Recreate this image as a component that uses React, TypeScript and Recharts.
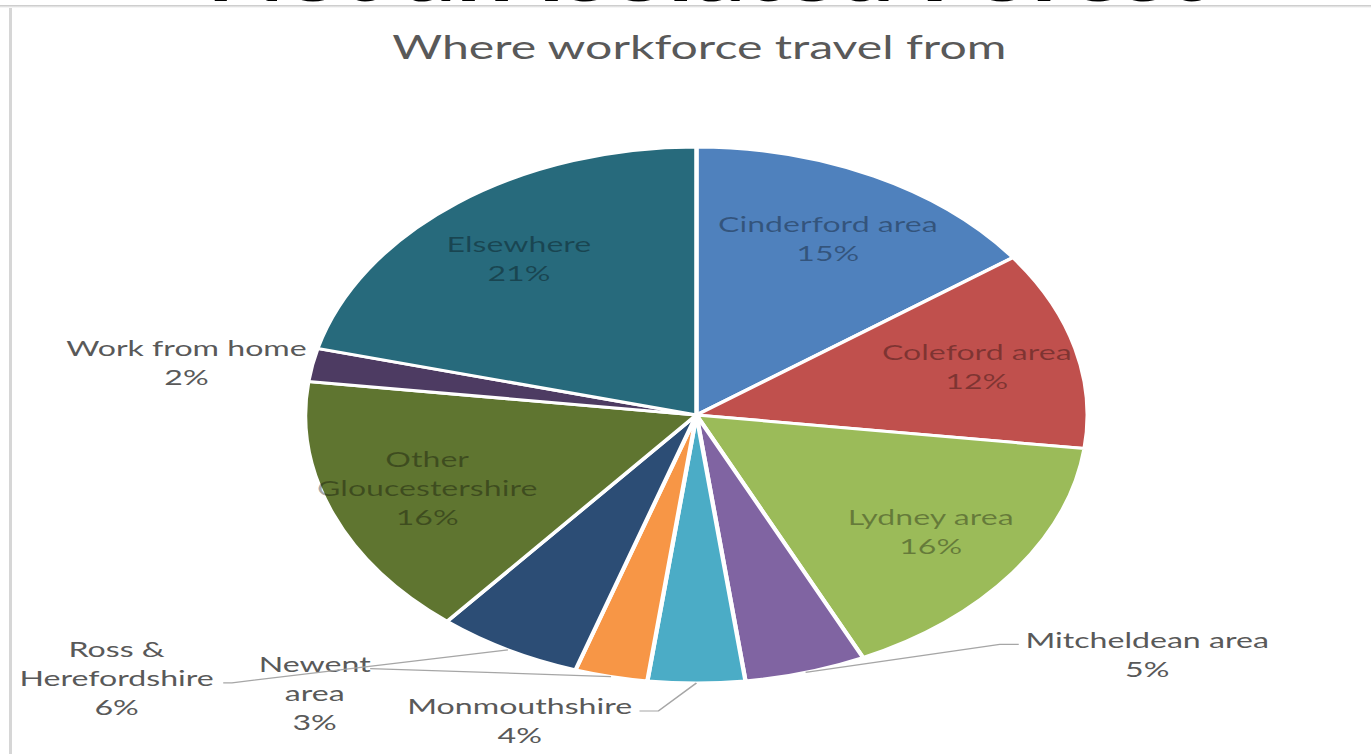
import { PieChart, Pie, Cell } from 'recharts';

const areas = [
  'Cinderford area',
  'Coleford area',
  'Lydney area',
  'Mitcheldean area',
  'Monmouthshire',
  'Newent area',
  'Ross & Herefordshire',
  'Other Gloucestershire',
  'Work from home',
  'Elsewhere',
];
const shares = [15, 12, 16, 5, 4, 3, 6, 16, 2, 21];
const labelRows = [
  ['Cinderford area'],
  ['Coleford area'],
  ['Lydney area'],
  ['Mitcheldean area'],
  ['Monmouthshire'],
  ['Newent', 'area'],
  ['Ross &', 'Herefordshire'],
  ['Other', 'Gloucestershire'],
  ['Work from home'],
  ['Elsewhere'],
];
const colors = ['#4F81BD', '#C0504D', '#9BBB59', '#8064A2', '#4BACC6', '#F79646', '#2C4D75', '#5F7530', '#4D3B62', '#276A7C'];

const data = areas.map((name, i) => ({ name, value: shares[i] }));

// the source picture is stretched sideways, so the whole chart is scaled on x
const SX = 1.46;
const W = 1371 / SX;
const LINE = 29;
const FONT = 22;

// outside labels: offsets from the slice's outer edge point (unscaled px)
const outsideLabels: Record<string, { text: [number, number]; line?: [number, number][] }> = {
  'Mitcheldean area': { text: [234, -33], line: [[133, -28], [146, -28]] },
  Monmouthshire: { text: [-121, 23], line: [[-26, 28], [-39, 28]] },
  'Newent area': { text: [-203, -13], line: [[-165, -8]] },
  'Ross & Herefordshire': { text: [-268, -1], line: [[-189, 33], [-195, 33]] },
  'Work from home': { text: [-86, -17] },
};

const renderLabel = (props: any) => {
  const { cx, cy, midAngle, outerRadius, index } = props;
  const rad = Math.PI / 180;
  const rows = [...labelRows[index], `${shares[index]}%`];
  const place = outsideLabels[areas[index]];
  if (!place) {
    const r = outerRadius * 0.74;
    const x = cx + r * Math.cos(-midAngle * rad);
    const y = cy + r * Math.sin(-midAngle * rad);
    const top = y - ((rows.length - 1) * LINE) / 2;
    return (
      <text textAnchor="middle" fill="#000" fillOpacity={0.34} fontSize={FONT}>
        {rows.map((t, i) => (
          <tspan key={i} x={x} y={top + i * LINE} dominantBaseline="central">
            {t}
          </tspan>
        ))}
      </text>
    );
  }
  const ax = cx + outerRadius * Math.cos(-midAngle * rad);
  const ay = cy + outerRadius * Math.sin(-midAngle * rad);
  const tx = ax + place.text[0];
  const ty = ay + place.text[1];
  const pts = place.line ? [[0, 0], ...place.line].map(([dx, dy]) => `${ax + dx},${ay + dy}`).join(' ') : null;
  return (
    <g>
      {pts && <polyline points={pts} fill="none" stroke="#a6a6a6" strokeWidth={1.2} />}
      <text textAnchor="middle" fill="#595959" fontSize={FONT}>
        {rows.map((t, i) => (
          <tspan key={i} x={tx} y={ty + i * LINE} dominantBaseline="central">
            {t}
          </tspan>
        ))}
      </text>
    </g>
  );
};

export default function App() {
  return (
    <div
      style={{
        position: 'absolute',
        left: 0,
        top: 0,
        width: 1371,
        height: 754,
        overflow: 'hidden',
        background: '#fff',
        fontFamily: 'Lato, "Open Sans", sans-serif',
      }}
    >
      <div
        style={{
          position: 'absolute',
          left: 0,
          top: 0,
          width: W,
          height: 754,
          transform: `scaleX(${SX})`,
          transformOrigin: '0 0',
        }}
      >
        <div
          style={{
            position: 'absolute',
            left: 0,
            width: W * 1.03,
            top: -61,
            fontSize: 70,
            lineHeight: '70px',
            fontWeight: 700,
            color: '#000',
            textAlign: 'center',
            whiteSpace: 'nowrap',
          }}
        >
          Not an isolated Forest
        </div>
        <div
          style={{
            position: 'absolute',
            left: 479 - 300,
            width: 600,
            top: 27,
            fontSize: 33,
            lineHeight: '38px',
            color: '#595959',
            textAlign: 'center',
            whiteSpace: 'nowrap',
          }}
        >
          Where workforce travel from
        </div>
        <PieChart width={W} height={754} style={{ position: 'absolute', left: 0, top: 0 }}>
          <Pie
            data={data}
            dataKey="value"
            nameKey="name"
            cx={472}
            cy={410}
            outerRadius={268}
            startAngle={90}
            endAngle={-270}
            stroke="#fff"
            strokeWidth={3}
            label={renderLabel}
            labelLine={false}
            isAnimationActive={false}
          >
            {data.map((d, i) => (
              <Cell key={d.name} fill={colors[i]} />
            ))}
          </Pie>
        </PieChart>
      </div>
      <div style={{ position: 'absolute', left: 0, top: 5, width: 1371, height: 3, background: 'linear-gradient(#c4c4c4, #fff)' }} />
      <div style={{ position: 'absolute', left: 9, top: 8, width: 3, height: 746, background: '#d6d6d6' }} />
    </div>
  );
}
